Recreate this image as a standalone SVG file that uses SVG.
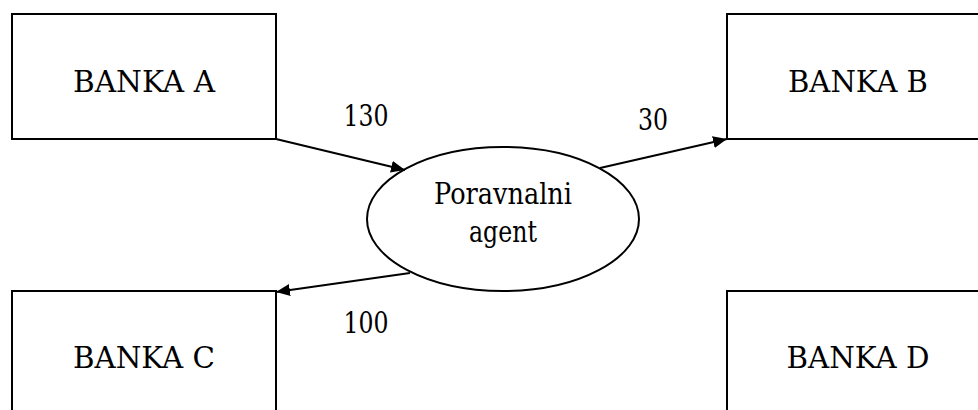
<svg xmlns="http://www.w3.org/2000/svg" width="978" height="410" viewBox="0 0 978 410">
<defs>
<marker id="arr" markerWidth="14" markerHeight="12" refX="14" refY="6" orient="auto" markerUnits="userSpaceOnUse">
<path d="M0,0 L14,6 L0,12 Z" fill="#000"/>
</marker>
<style>
.box{fill:#fff;stroke:#000;stroke-width:2}
.t{font-family:'DejaVu Serif',serif;font-size:29px;fill:#000;text-anchor:middle}
.c{stroke:#000;stroke-width:2;fill:none;marker-end:url(#arr)}
</style>
</defs>
<rect width="978" height="410" fill="#fff"/>
<g id="banka-a"><rect class="box" x="12" y="14" width="264" height="125"/><text class="t" x="144" y="92" textLength="142" lengthAdjust="spacingAndGlyphs">BANKA A</text></g>
<g id="banka-b"><rect class="box" x="727" y="14" width="260" height="125"/><text class="t" x="858" y="92" textLength="140" lengthAdjust="spacingAndGlyphs">BANKA B</text></g>
<g id="banka-c"><rect class="box" x="12" y="291" width="264" height="130"/><text class="t" x="144" y="368" textLength="142" lengthAdjust="spacingAndGlyphs">BANKA C</text></g>
<g id="banka-d"><rect class="box" x="727" y="291" width="260" height="130"/><text class="t" x="858" y="368" textLength="143" lengthAdjust="spacingAndGlyphs">BANKA D</text></g>
<g id="agent"><ellipse class="box" cx="503" cy="219" rx="136" ry="72"/><text class="t" x="503" y="204" textLength="138" lengthAdjust="spacingAndGlyphs">Poravnalni</text><text class="t" x="503" y="242" textLength="68" lengthAdjust="spacingAndGlyphs">agent</text></g>
<g id="connectors">
<line class="c" x1="276" y1="139" x2="405" y2="170"/>
<line class="c" x1="600" y1="168" x2="727" y2="139"/>
<line class="c" x1="410" y1="273" x2="276" y2="292"/>
<text class="t" x="366" y="126" textLength="45" lengthAdjust="spacingAndGlyphs">130</text>
<text class="t" x="653" y="130" textLength="30" lengthAdjust="spacingAndGlyphs">30</text>
<text class="t" x="366" y="333" textLength="45" lengthAdjust="spacingAndGlyphs">100</text>
</g>
</svg>
